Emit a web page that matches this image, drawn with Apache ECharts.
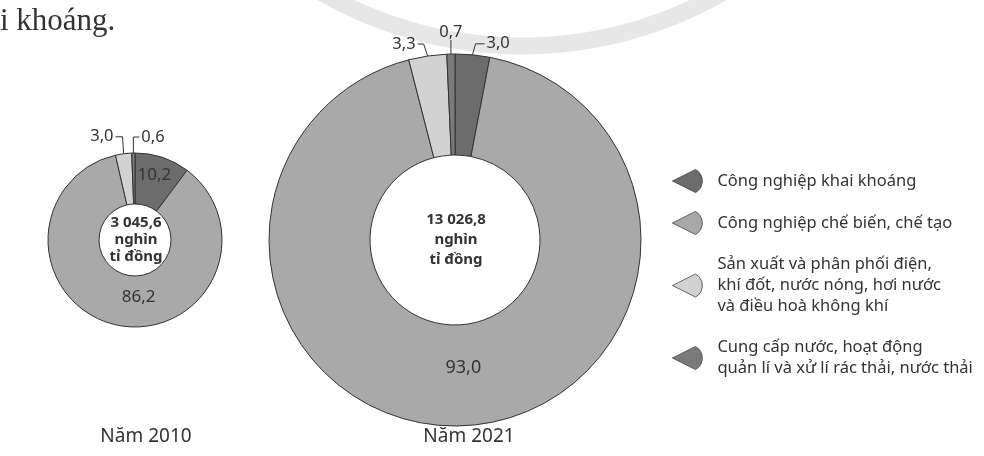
<!DOCTYPE html>
<html>
<head>
<meta charset="utf-8">
<script src="https://cdn.jsdelivr.net/npm/echarts@6/dist/echarts.min.js"></script>
<style>
html,body{margin:0;padding:0;background:#fff;}
#chart{width:984px;height:456px;}
</style>
</head>
<body>
<div id="chart"></div>
<script>
// ---- data ----
const categories = [
  'Công nghiệp khai khoáng',
  'Công nghiệp chế biến, chế tạo',
  'Sản xuất và phân phối điện, khí đốt, nước nóng, hơi nước và điều hoà không khí',
  'Cung cấp nước, hoạt động quản lí và xử lí rác thải, nước thải'
];
const legendLines = [
  ['Công nghiệp khai khoáng'],
  ['Công nghiệp chế biến, chế tạo'],
  ['Sản xuất và phân phối điện,', 'khí đốt, nước nóng, hơi nước', 'và điều hoà không khí'],
  ['Cung cấp nước, hoạt động', 'quản lí và xử lí rác thải, nước thải']
];
const values2010 = [10.2, 86.2, 3.0, 0.6];
const values2021 = [3.0, 93.0, 3.3, 0.7];
const years = ['Năm 2010', 'Năm 2021'];
const totals = ['3 045,6', '13 026,8'];
const unitLines = ['nghìn', 'tỉ đồng'];
const headText = 'i khoáng.';

// ---- styles / layout ----
const colors = ['#6c6c6c', '#a9a9a9', '#d2d2d2', '#7a7a7a'];
const FONT = '"Noto Sans", sans-serif';
const pies = [
  {center: [135, 240], radius: [36, 87], values: values2010, outside: [2, 3]},
  {center: [455, 240], radius: [85, 186], values: values2021, outside: [0, 2, 3]}
];
const OUTSIDE = {
  '0-2': {elbow: [-1, -17], end: [-8, -17], text: [-10, -17], align: 'right'},
  '0-3': {elbow: [0, -16], end: [6, -16], text: [8, -16], align: 'left'},
  '1-2': {elbow: [-4, -12], end: [-10, -12], text: [-12, -12], align: 'right'},
  '1-3': {elbow: [0, -7], end: [0, -14], text: [0, -22], align: 'center'},
  '1-0': {elbow: [3, -11], end: [12, -11], text: [14, -12], align: 'left'}
};
const INSIDE_SHIFT = {'0-1': [17, -6], '1-1': [4, -11], '0-0': [-1, -4]};

function fmt(v) { return v.toFixed(1).replace('.', ','); }

const series = pies.map((p, si) => ({
  type: 'pie',
  center: p.center,
  radius: p.radius,
  startAngle: 90,
  clockwise: true,
  avoidLabelOverlap: false,
  minAngle: 0,
  animation: false,
  silent: true,
  itemStyle: {borderColor: '#333', borderWidth: 1},
  label: {
    color: '#333', fontFamily: FONT, fontSize: 17,
    formatter: (pa) => fmt(pa.value)
  },
  labelLine: {lineStyle: {color: '#333', width: 1}, length: 6, length2: 6},
  labelLayout: function (params) {
    const key = params.seriesIndex + '-' + params.dataIndex;
    const o = OUTSIDE[key];
    if (o && params.labelLinePoints) {
      const p0 = params.labelLinePoints[0];
      return {
        x: p0[0] + o.text[0], y: p0[1] + o.text[1],
        align: o.align, verticalAlign: 'middle',
        labelLinePoints: [
          [p0[0], p0[1]],
          [p0[0] + o.elbow[0], p0[1] + o.elbow[1]],
          [p0[0] + o.end[0], p0[1] + o.end[1]]
        ]
      };
    }
    const s = INSIDE_SHIFT[key];
    if (s) return {dx: s[0], dy: s[1]};
    return {};
  },
  data: categories.map((name, i) => {
    const out = p.outside.indexOf(i) >= 0;
    return {
      name: name,
      value: p.values[i],
      itemStyle: {color: colors[i]},
      label: out ? {position: 'outside', fontSize: 16.5}
                 : {position: 'inside', fontSize: (si === 1 ? 18 : 17)},
      labelLine: {show: out}
    };
  })
}));

const legendTops = [169, 211, 254, 337];
const legends = categories.map((name, i) => ({
  data: [name],
  orient: 'vertical',
  left: 672,
  top: legendTops[i],
  padding: 0,
  icon: 'path://M0,14 L28,0 A16,16 0 0,1 28,28 Z',
  itemWidth: 30,
  itemHeight: 28,
  selectedMode: false,
  formatter: () => legendLines[i].join('\n'),
  textStyle: {color: '#333', fontFamily: FONT, fontSize: 16.5, lineHeight: 21, padding: [0, 0, 0, 10]},
  itemStyle: {borderColor: '#444', borderWidth: 0.8}
}));

const graphic = [
  {type: 'arc', z: 0, shape: {cx: 522, cy: -357, r: 403, startAngle: 0.9, endAngle: 2.25},
   style: {stroke: '#e7e7e7', lineWidth: 17, fill: null}},
  {type: 'text', x: 0, y: 22, style: {text: headText, font: '31px "Liberation Serif"', fill: '#333', textVerticalAlign: 'middle'}}
];
pies.forEach((p, i) => {
  graphic.push({
    type: 'text', x: p.center[0] + 1, y: p.center[1], z: 10,
    style: {
      text: [totals[i]].concat(unitLines).join('\n'),
      fontFamily: FONT, fontWeight: 'bold', fontSize: 15,
      lineHeight: i === 0 ? 17 : 20,
      fill: '#333', align: 'center', verticalAlign: 'middle'
    }
  });
});
const yearX = [146, 469];
years.forEach((t, i) => {
  graphic.push({type: 'text', x: yearX[i], y: 437, style: {text: t, fontFamily: FONT, fontSize: 19, fill: '#333', align: 'center', verticalAlign: 'middle'}});
});

const chart = echarts.init(document.getElementById('chart'), null, {renderer: 'canvas'});
chart.setOption({
  backgroundColor: '#fff',
  animation: false,
  legend: legends,
  series: series,
  graphic: graphic
});
</script>
</body>
</html>
